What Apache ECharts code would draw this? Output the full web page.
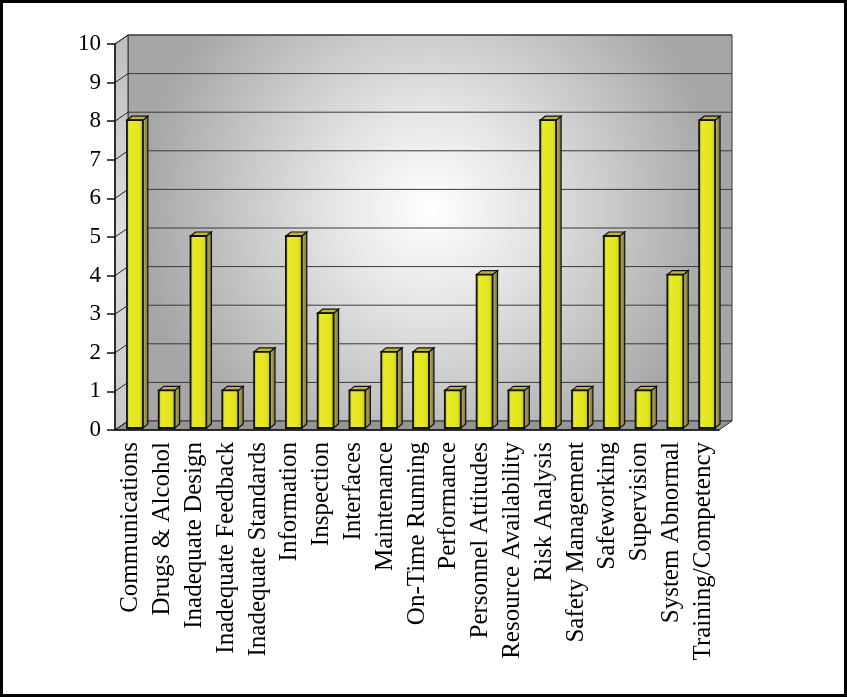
<!DOCTYPE html>
<html>
<head>
<meta charset="utf-8">
<script src="https://cdn.jsdelivr.net/npm/echarts@6/dist/echarts.min.js"></script>
<style>
html,body{margin:0;padding:0;background:#fff;}
#frame{position:absolute;left:0;top:0;width:841px;height:691px;border:3px solid #000;}
#chart{position:absolute;left:0;top:0;width:847px;height:697px;}
</style>
</head>
<body>
<div id="frame"></div>
<div id="chart"></div>
<script>
const categories = ["Communications","Drugs & Alcohol","Inadequate Design","Inadequate Feedback","Inadequate Standards","Information","Inspection","Interfaces","Maintenance","On-Time Running","Performance","Personnel Attitudes","Resource Availability","Risk Analysis","Safety Management","Safeworking","Supervision","System Abnormal","Training/Competency"];
const counts = [8,1,5,1,2,5,3,1,2,2,1,4,1,8,1,5,1,4,8];
const yTicks = [0,1,2,3,4,5,6,7,8,9,10];

const DX = 13, DY = -9;
const chart = echarts.init(document.getElementById('chart'));

function renderWalls(params, api) {
  const cs = params.coordSys;
  const x0 = cs.x, x1 = cs.x + cs.width;
  const yb = api.coord([0, 0])[1];
  const yt = api.coord([0, 10])[1];
  const children = [];
  children.push({type:'rect', shape:{x:x0+DX, y:yt+DY, width:x1-x0, height:yb-yt},
    style:{fill:new echarts.graphic.RadialGradient(0.5,0.45,0.75,[
      {offset:0,color:'#ffffff'},{offset:0.35,color:'#e4e4e4'},{offset:1,color:'#a6a6a6'}]),
      stroke:'#333', lineWidth:1}});
  children.push({type:'polygon', shape:{points:[[x0,yb],[x0+DX,yb+DY],[x0+DX,yt+DY],[x0,yt]]},
    style:{fill:new echarts.graphic.LinearGradient(0,0,0,1,[
      {offset:0,color:'#bdbdbd'},{offset:0.5,color:'#dddddd'},{offset:1,color:'#c8c8c8'}]),
      stroke:'#333', lineWidth:1}});
  children.push({type:'polygon', shape:{points:[[x0,yb],[x1,yb],[x1+DX,yb+DY],[x0+DX,yb+DY]]},
    style:{fill:'#959595', stroke:'#333', lineWidth:1}});
  yTicks.forEach(function(t){
    const y = api.coord([0, t])[1];
    if (t > 0) {
      children.push({type:'line', shape:{x1:x0+DX, y1:y+DY, x2:x1+DX, y2:y+DY}, style:{stroke:'#3a3a3a', lineWidth:1}});
    }
    children.push({type:'line', shape:{x1:x0, y1:y, x2:x0+DX, y2:y+DY}, style:{stroke:'#222', lineWidth:1}});
  });
  return {type:'group', children:children};
}

function renderBar(params, api) {
  const idx = api.value(0), v = api.value(1);
  const top = api.coord([idx, v]);
  const base = api.coord([idx, 0]);
  const band = api.size([1, 0])[0];
  const w = band * 0.5;
  const x = top[0] - w/2 + 4;
  const yT = top[1] - 1;
  const yB = base[1] - 2;
  const d = 5, e = -4;
  return {type:'group', children:[
    {type:'polygon', shape:{points:[[x+w,yT],[x+w+d,yT+e],[x+w+d,yB+e],[x+w,yB]]},
      style:{fill:new echarts.graphic.LinearGradient(0,0,1,0,[
        {offset:0,color:'#efe6b8'},{offset:0.35,color:'#a9a05a'},{offset:1,color:'#6e6a28'}]),
        stroke:'#111', lineWidth:1.2}},
    {type:'polygon', shape:{points:[[x,yT],[x+d,yT+e],[x+w+d,yT+e],[x+w,yT]]},
      style:{fill:'#b9b63a', stroke:'#111', lineWidth:1.2}},
    {type:'rect', shape:{x:x, y:yT, width:w, height:yB-yT},
      style:{fill:new echarts.graphic.LinearGradient(0,0,1,0,[
        {offset:0,color:'#a8a810'},{offset:0.2,color:'#e8ea2a'},{offset:0.75,color:'#e2e41e'},{offset:1,color:'#b9ba12'}]),
        stroke:'#111', lineWidth:1.8}}
  ]};
}

chart.setOption({
  animation:false,
  grid:{left:115, right:128, top:44, bottom:267, containLabel:false},
  xAxis:{type:'category', data:categories, z:10,
    axisLine:{lineStyle:{color:'#111', width:1.5}},
    axisTick:{length:7, lineStyle:{color:'#111', width:1.5}},
    axisLabel:{rotate:90, interval:0, margin:12, fontFamily:'Liberation Serif', fontSize:25, color:'#000'}},
  yAxis:{type:'value', min:0, max:10, interval:1, z:10,
    axisLine:{show:true, lineStyle:{color:'#111', width:1.5}},
    axisTick:{show:true, length:8, lineStyle:{color:'#111', width:1.5}},
    axisLabel:{margin:14, fontFamily:'Liberation Serif', fontSize:23, color:'#000'},
    splitLine:{show:false}},
  series:[
    {type:'custom', z:1, silent:true, data:[[0,0]], renderItem:renderWalls, encode:{x:0,y:1}},
    {type:'custom', z:5, data:counts.map(function(c,i){return [i,c];}), renderItem:renderBar, encode:{x:0,y:1}}
  ]
});
</script>
</body>
</html>
